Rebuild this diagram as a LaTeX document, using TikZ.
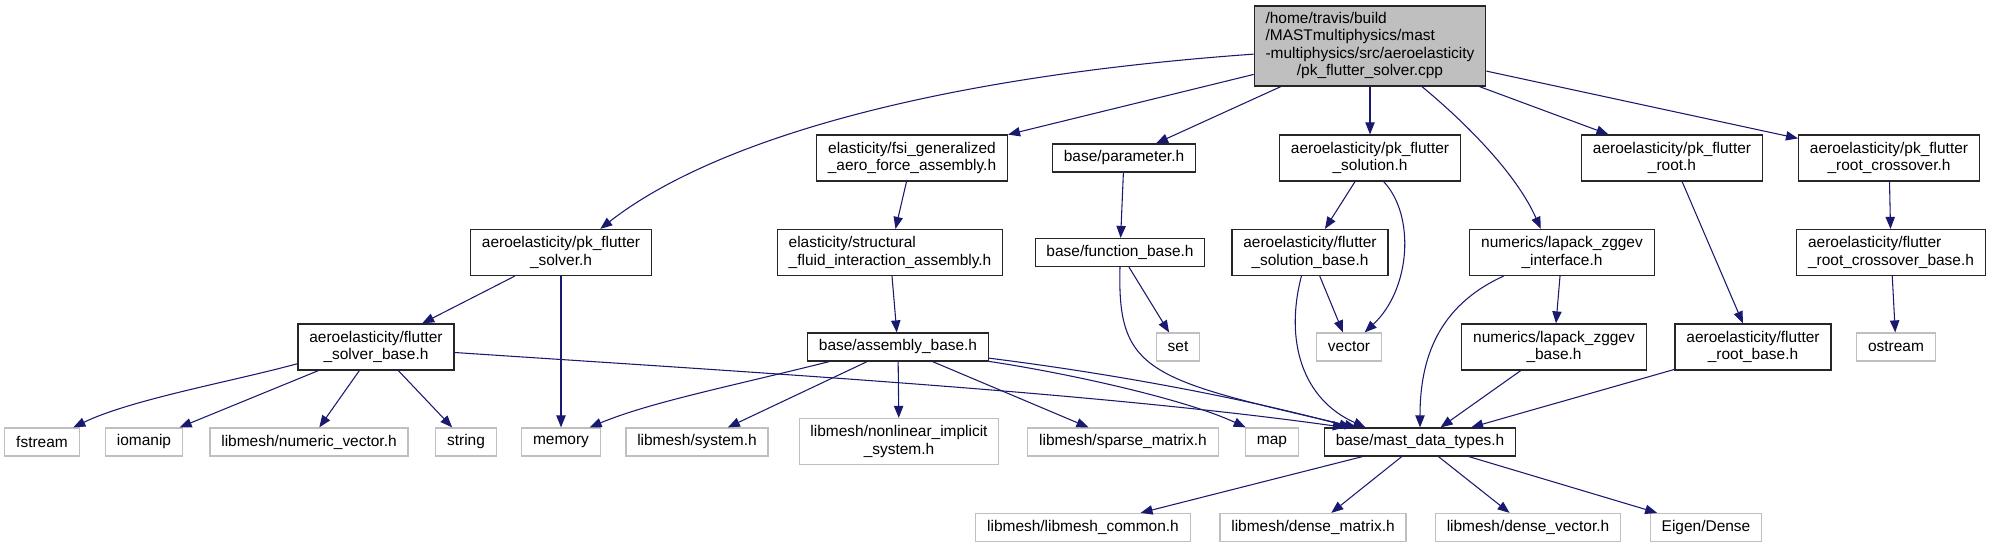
\documentclass[tikz,border=0pt]{standalone}
\usepackage{fontspec}
\setmainfont{Liberation Sans}
\usetikzlibrary{arrows.meta}
\definecolor{edgeblue}{HTML}{191970}
\definecolor{boxgray}{HTML}{BFBFBF}

\tikzset{
  file/.style={draw=black!85, line width=0.9pt, fill=white, inner xsep=8.5pt,
    inner ysep=4pt, minimum height=21pt, align=center,
    font=\fontsize{11.6}{13}\selectfont},
  twoline/.style={minimum height=34.5pt},
  sysfile/.style={file, draw=boxgray},
  curfile/.style={file, fill=boxgray, minimum height=60pt},
  dep/.style={edgeblue, line width=0.8pt, -{Triangle[length=9pt,width=7pt]}}
}

\begin{document}
\begin{tikzpicture}[x=0.75pt,y=-0.75pt]
  \useasboundingbox (0,0) rectangle (1991,548);
  % the file itself
  \node[curfile] (root) at (1370,46) {\begin{tabular}{@{}l@{}}
    /home/travis/build\\ /MASTmultiphysics/mast\\
    -multiphysics/src/aeroelasticity\\
    \multicolumn{1}{@{}c@{}}{/pk\_flutter\_solver.cpp}\end{tabular}};
  % project headers
  \node[file, twoline] (solver) at (561,252.5) {aeroelasticity/pk\_flutter\\\_solver.h};
  \node[file, twoline] (fsi) at (912,158) {elasticity/fsi\_generalized\\\_aero\_force\_assembly.h};
  \node[file] (param) at (1124,158) {base/parameter.h};
  \node[file, twoline] (solution) at (1370,158) {aeroelasticity/pk\_flutter\\\_solution.h};
  \node[file, twoline] (proot) at (1672,158) {aeroelasticity/pk\_flutter\\\_root.h};
  \node[file, twoline] (pcross) at (1889,158) {aeroelasticity/pk\_flutter\\\_root\_crossover.h};
  \node[file, twoline, align=left] (sfi) at (890,252.5) {elasticity/structural\\\_fluid\_interaction\_assembly.h};
  \node[file] (fbase) at (1120,252.5) {base/function\_base.h};
  \node[file, twoline] (solbase) at (1310,252.5) {aeroelasticity/flutter\\\_solution\_base.h};
  \node[file, twoline] (zif) at (1562,252.5) {numerics/lapack\_zggev\\\_interface.h};
  \node[file, twoline, align=left] (crbase) at (1891,252.5) {aeroelasticity/flutter\\\_root\_crossover\_base.h};
  \node[file, twoline] (svbase) at (376,347) {aeroelasticity/flutter\\\_solver\_base.h};
  \node[file] (asm) at (898,347) {base/assembly\_base.h};
  \node[file, twoline] (zbase) at (1554,347) {numerics/lapack\_zggev\\\_base.h};
  \node[file, twoline] (rbase) at (1753,347) {aeroelasticity/flutter\\\_root\_base.h};
  \node[file] (mast) at (1420,442) {base/mast\_data\_types.h};
  % system and library headers
  \node[sysfile] (set) at (1178,347) {set};
  \node[sysfile] (vec) at (1349,347) {vector};
  \node[sysfile] (ostr) at (1896,347) {ostream};
  \node[sysfile] (fstr) at (42,442) {fstream};
  \node[sysfile] (ioman) at (144,442) {iomanip};
  \node[sysfile] (numvec) at (309,442) {libmesh/numeric\_vector.h};
  \node[sysfile] (str) at (466,442) {string};
  \node[sysfile] (mem) at (561,442) {memory};
  \node[sysfile] (sys) at (697,442) {libmesh/system.h};
  \node[sysfile, twoline] (nlsys) at (899,441.5) {libmesh/nonlinear\_implicit\\\_system.h};
  \node[sysfile] (sparse) at (1123,442) {libmesh/sparse\_matrix.h};
  \node[sysfile] (map) at (1272,442) {map};
  \node[sysfile] (common) at (1083,527.5) {libmesh/libmesh\_common.h};
  \node[sysfile] (dmat) at (1313,527.5) {libmesh/dense\_matrix.h};
  \node[sysfile] (dvec) at (1528,527.5) {libmesh/dense\_vector.h};
  \node[sysfile] (eigen) at (1706,527.5) {Eigen/Dense};

  % includes of the file itself
  \draw[dep] (root.184) .. controls +(-349,25) and +(102,-80) .. (solver.31);
  \draw[dep] (root) -- (fsi);
  \draw[dep] (root) -- (param);
  \draw[dep] (root) -- (solution);
  \draw[dep] (root.-38) .. controls +(53,44) and +(-22,-50) .. (zif.132);
  \draw[dep] (root) -- (proot);
  \draw[dep] (root) -- (pcross);
  % second level
  \draw[dep] (solver) -- (svbase);
  \draw[dep] (solver) -- (mem);
  \draw[dep] (fsi) -- (sfi);
  \draw[dep] (sfi) -- (asm);
  \draw[dep] (param) -- (fbase);
  \draw[dep] (solution) -- (solbase);
  \draw[dep] (solution.-60) .. controls +(32,34) and +(46,-43) .. (vec.43);
  \draw[dep] (zif.202) .. controls +(-66,30) and +(0,-68) .. (mast.north);
  \draw[dep] (zif) -- (zbase);
  \draw[dep] (proot) -- (rbase);
  \draw[dep] (pcross) -- (crbase);
  \draw[dep] (crbase) -- (ostr);
  % third level
  \draw[dep] (svbase.192) .. controls +(-66,18) and +(58,-28) .. (fstr.25);
  \draw[dep] (svbase) -- (ioman);
  \draw[dep] (svbase) -- (numvec);
  \draw[dep] (svbase) -- (str);
  \draw[dep] (svbase.-4) .. controls +(300,20) and +(-250,-35) .. (mast.169);
  \draw[dep] (asm.192) .. controls +(-100,25) and +(60,-25) .. (mem.27);
  \draw[dep] (asm) -- (sys);
  \draw[dep] (asm) -- (nlsys);
  \draw[dep] (asm) -- (sparse);
  \draw[dep] (asm.-9) .. controls +(80,12) and +(-60,-28) .. (map.151);
  \draw[dep] (asm.-7) .. controls +(120,15) and +(-110,-30) .. (mast.168);
  \draw[dep] (fbase) -- (set);
  \draw[dep] (fbase.south) .. controls +(-3,105) and +(-209,-48) .. (mast.167);
  \draw[dep] (solbase) -- (vec);
  \draw[dep] (solbase.-110) .. controls +(-17,65) and +(-63,-28) .. (mast.165);
  \draw[dep] (zbase) -- (mast);
  \draw[dep] (rbase) -- (mast);
  % data types
  \draw[dep] (mast) -- (common);
  \draw[dep] (mast) -- (dmat);
  \draw[dep] (mast) -- (dvec);
  \draw[dep] (mast) -- (eigen);
\end{tikzpicture}
\end{document}
